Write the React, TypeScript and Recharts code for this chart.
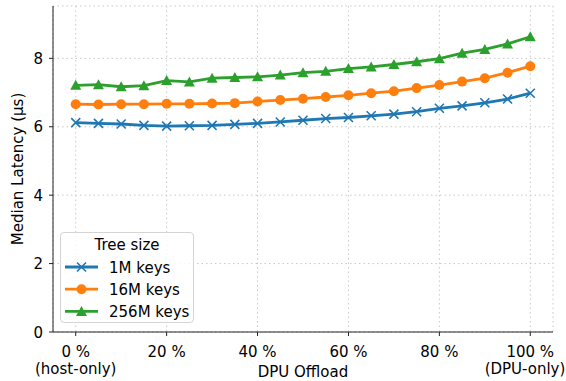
import { LineChart, Line, XAxis, YAxis, CartesianGrid } from "recharts";

// DPU offload share (%) on the x axis, median latency (µs) per tree size
const offload = [0, 5, 10, 15, 20, 25, 30, 35, 40, 45, 50, 55, 60, 65, 70, 75, 80, 85, 90, 95, 100];
const keys1M = [6.12, 6.1, 6.08, 6.04, 6.02, 6.03, 6.04, 6.07, 6.1, 6.14, 6.19, 6.24, 6.27, 6.32, 6.37, 6.44, 6.54, 6.61, 6.7, 6.81, 6.98];
const keys16M = [6.66, 6.65, 6.66, 6.66, 6.67, 6.67, 6.68, 6.69, 6.74, 6.78, 6.82, 6.87, 6.92, 6.98, 7.04, 7.13, 7.22, 7.32, 7.42, 7.58, 7.77];
const keys256M = [7.21, 7.23, 7.17, 7.2, 7.35, 7.31, 7.42, 7.44, 7.46, 7.51, 7.58, 7.62, 7.7, 7.75, 7.82, 7.9, 7.99, 8.15, 8.26, 8.42, 8.63];

const xTicks = [0, 20, 40, 60, 80, 100];
const yTicks = [0, 2, 4, 6, 8];
const xSubLabels: Record<number, string> = { 0: "(host-only)", 100: "(DPU-only)" };

const seriesNames = ["1M keys", "16M keys", "256M keys"];

const data = offload.map((x, i) => ({
  x,
  k1: keys1M[i],
  k16: keys16M[i],
  k256: keys256M[i],
}));

const BLUE = "#1f77b4";
const ORANGE = "#ff7f0e";
const GREEN = "#2ca02c";
const SPINE = "#222222";
const FONT = "DejaVu Sans, sans-serif";
const FS = 15;

/* ── markers ─────────────────────────────────────────────────────────── */

function XMark({ cx, cy, color = BLUE }: any) {
  if (cx == null || cy == null) return null;
  const s = 4.5;
  return (
    <path
      d={`M${cx - s},${cy - s}L${cx + s},${cy + s}M${cx - s},${cy + s}L${cx + s},${cy - s}`}
      stroke={color}
      strokeWidth={1.6}
      fill="none"
    />
  );
}

function CircleMark({ cx, cy, color = ORANGE }: any) {
  if (cx == null || cy == null) return null;
  return <circle cx={cx} cy={cy} r={5} fill={color} stroke="none" />;
}

function TriMark({ cx, cy, color = GREEN }: any) {
  if (cx == null || cy == null) return null;
  return (
    <path
      d={`M${cx},${cy - 5.5}L${cx + 5.5},${cy + 4.5}L${cx - 5.5},${cy + 4.5}Z`}
      fill={color}
      stroke="none"
    />
  );
}

/* ── axis ticks ──────────────────────────────────────────────────────── */

function XTick({ x, payload }: any) {
  const sub = xSubLabels[payload.value];
  // keep the right-hand sub label inside the figure edge
  const subX = Math.min(x, 566 - 41);
  return (
    <g fontFamily={FONT} fontSize={FS} fill="#000">
      <text x={x} y={357} textAnchor="middle">
        {payload.value} %
      </text>
      {sub && (
        <text x={subX} y={374} textAnchor="middle">
          {sub}
        </text>
      )}
    </g>
  );
}

function YTick({ x, y, payload }: any) {
  return (
    <text x={x} y={y} dy={5.5} textAnchor="end" fontFamily={FONT} fontSize={FS} fill="#000">
      {payload.value}
    </text>
  );
}

/* ── legend (matplotlib-style box, lower left) ───────────────────────── */

function LegendBox() {
  const rows = [
    { name: seriesNames[0], color: BLUE, Mark: XMark },
    { name: seriesNames[1], color: ORANGE, Mark: CircleMark },
    { name: seriesNames[2], color: GREEN, Mark: TriMark },
  ];
  return (
    <div
      style={{
        position: "absolute",
        left: 60,
        top: 232,
        width: 134,
        height: 91,
        boxSizing: "border-box",
        border: "1px solid #d4d4d4",
        borderRadius: 4,
        background: "rgba(255,255,255,0.8)",
      }}
    >
      <svg width={134} height={91} style={{ position: "absolute", left: -1, top: -1 }}>
        <text x={67} y={17.5} textAnchor="middle" fontFamily={FONT} fontSize={FS} fill="#000">
          Tree size
        </text>
        {rows.map(({ name, color, Mark }, i) => {
          const cy = 35 + i * 22.2;
          return (
            <g key={name}>
              <line x1={5} x2={38} y1={cy} y2={cy} stroke={color} strokeWidth={2.8} />
              <Mark cx={21.5} cy={cy} color={color} />
              <text x={49} y={cy + 5.5} fontFamily={FONT} fontSize={FS} fill="#000">
                {name}
              </text>
            </g>
          );
        })}
      </svg>
    </div>
  );
}

export default function App() {
  return (
    <div style={{ position: "absolute", left: 0, top: 0, width: 566, height: 381, background: "#fff" }}>
      <LineChart
        width={566}
        height={381}
        data={data}
        margin={{ top: 6, right: 13, bottom: 0, left: 0 }}
      >
        <CartesianGrid stroke="#c8c8c8" strokeDasharray="1.5 3" strokeWidth={1} />
        <XAxis
          dataKey="x"
          type="number"
          domain={[-5, 105]}
          ticks={xTicks}
          height={49}
          tick={<XTick />}
          tickSize={4}
          tickLine={{ stroke: SPINE }}
          axisLine={{ stroke: SPINE }}
          interval={0}
          label={{
            content: () => (
              <text x={303} y={377} textAnchor="middle" fontFamily={FONT} fontSize={FS} fill="#000">
                DPU Offload
              </text>
            ),
          }}
        />
        <XAxis
          xAxisId="top"
          orientation="top"
          type="number"
          domain={[-5, 105]}
          height={0}
          tick={false}
          tickLine={false}
          axisLine={{ stroke: SPINE }}
        />
        <YAxis
          type="number"
          domain={[0, 9.53]}
          ticks={yTicks}
          width={53}
          tick={<YTick />}
          tickSize={4}
          tickMargin={6}
          tickLine={{ stroke: SPINE }}
          axisLine={{ stroke: SPINE }}
          allowDataOverflow
          label={{
            content: () => (
              <text
                x={22.5}
                y={169}
                transform="rotate(-90 22.5 169)"
                textAnchor="middle"
                fontFamily={FONT}
                fontSize={FS}
                fill="#000"
              >
                Median Latency (µs)
              </text>
            ),
          }}
        />
        <YAxis
          yAxisId="right"
          orientation="right"
          domain={[0, 9.53]}
          width={0}
          tick={false}
          tickLine={false}
          axisLine={{ stroke: SPINE }}
        />
        <Line
          dataKey="k1"
          name={seriesNames[0]}
          stroke={BLUE}
          strokeWidth={2.8}
          dot={(p: any) => <XMark key={`k1-${p.index}`} cx={p.cx} cy={p.cy} color={BLUE} />}
          isAnimationActive={false}
        />
        <Line
          dataKey="k16"
          name={seriesNames[1]}
          stroke={ORANGE}
          strokeWidth={2.8}
          dot={(p: any) => <CircleMark key={`k16-${p.index}`} cx={p.cx} cy={p.cy} color={ORANGE} />}
          isAnimationActive={false}
        />
        <Line
          dataKey="k256"
          name={seriesNames[2]}
          stroke={GREEN}
          strokeWidth={2.8}
          dot={(p: any) => <TriMark key={`k256-${p.index}`} cx={p.cx} cy={p.cy} color={GREEN} />}
          isAnimationActive={false}
        />
      </LineChart>
      <LegendBox />
    </div>
  );
}
